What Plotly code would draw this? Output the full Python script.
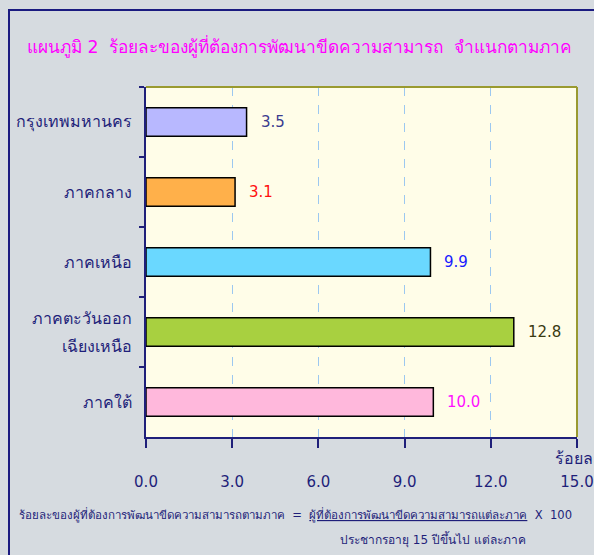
import plotly.graph_objects as go

categories = ["กรุงเทพมหานคร", "ภาคกลาง", "ภาคเหนือ", "ภาคตะวันออก<br>เฉียงเหนือ", "ภาคใต้"]
values = [3.5, 3.1, 9.9, 12.8, 10.0]
value_labels = ["3.5", "3.1", "9.9", "12.8", "10.0"]
bar_colors = ["#b8b8ff", "#ffb04a", "#6ad8ff", "#a8d040", "#ffb8dc"]
label_colors = ["#3b3b8f", "#ff1010", "#1a1aff", "#3a3a10", "#ff10ff"]
x_ticks = [0, 3, 6, 9, 12, 15]
x_ticktext = ["0.0", "3.0", "6.0", "9.0", "12.0", "15.0"]

NAVY = "#1f1f7a"
FONT = "Tahoma, DejaVu Sans, sans-serif"

fig = go.Figure()
fig.add_trace(go.Bar(
    x=values, y=categories, orientation="h",
    marker=dict(color=bar_colors, line=dict(color="#000000", width=1.5)),
    hoverinfo="skip",
))

def px(p):
    return (p - 146) / 431.0

def py(p):
    return (437 - p) / 350.0

annotations = []
for v, lab, c, cat in zip(values, value_labels, label_colors, categories):
    annotations.append(dict(x=v, y=cat, xref="x", yref="y", text=lab, showarrow=False,
                            xanchor="left", yanchor="middle", xshift=12,
                            font=dict(size=15, color=c, family=FONT)))

# category labels (multi-line ones spaced like the original)
for cat in categories:
    lines = cat.split("<br>")
    n = len(lines)
    for i, ln in enumerate(lines):
        annotations.append(dict(x=px(134), y=cat, xref="paper", yref="y", text=ln,
                                showarrow=False, xanchor="right", yanchor="middle",
                                yshift=((n - 1) / 2.0 - i) * 28,
                                font=dict(size=16, color=NAVY, family=FONT)))

annotations += [
    dict(x=px(25), y=py(47), xref="paper", yref="paper", xanchor="left", yanchor="middle",
         text="แผนภูมิ 2  ร้อยละของผู้ที่ต้องการพัฒนาขีดความสามารถ  จำแนกตามภาค",
         showarrow=False, font=dict(size=17.3, color="#ff00ff", family=FONT)),
    dict(x=px(553), y=py(458), xref="paper", yref="paper", xanchor="left", yanchor="middle",
         text="ร้อยละ", showarrow=False, font=dict(size=16, color=NAVY, family=FONT)),
    dict(x=px(17), y=py(515), xref="paper", yref="paper", xanchor="left", yanchor="middle",
         text="ร้อยละของผู้ที่ต้องการพัฒนาขีดความสามารถตามภาค  =  <u>ผู้ที่ต้องการพัฒนาขีดความสามารถแต่ละภาค</u>  X  100",
         showarrow=False, font=dict(size=11.55, color=NAVY, family=FONT)),
    dict(x=px(433), y=py(539), xref="paper", yref="paper", xanchor="center", yanchor="middle",
         text="ประชากรอายุ 15 ปีขึ้นไป แต่ละภาค",
         showarrow=False, font=dict(size=12, color=NAVY, family=FONT)),
]

shapes = [
    dict(type="rect", xref="paper", yref="paper", x0=px(9), x1=px(620), y0=py(580), y1=py(10),
         line=dict(color="#1a1a80", width=2), fillcolor="rgba(0,0,0,0)", layer="below"),
    dict(type="line", xref="paper", yref="paper", x0=0, x1=1, y0=1, y1=1,
         line=dict(color="#9a9a30", width=2)),
    dict(type="line", xref="paper", yref="paper", x0=1, x1=1, y0=0, y1=1,
         line=dict(color="#9a9a30", width=2)),
]

fig.update_layout(
    width=594, height=555,
    margin=dict(l=146, r=17, t=87, b=118, autoexpand=False),
    paper_bgcolor="#d6dbe0",
    plot_bgcolor="#fffde8",
    bargap=0.59,
    showlegend=False,
    annotations=annotations,
    shapes=shapes,
    font=dict(family=FONT, color=NAVY),
)
fig.update_xaxes(
    range=[0, 15], tickvals=x_ticks, ticktext=x_ticktext,
    showgrid=True, gridcolor="#9cc8f0", griddash="dash", gridwidth=1,
    showline=True, linecolor=NAVY, linewidth=1.5,
    ticks="outside", ticklen=9, tickcolor=NAVY, tickwidth=1.5,
    tickfont=dict(size=15, color=NAVY, family=FONT),
    ticklabelstandoff=21, zeroline=False, automargin=False, fixedrange=True,
)
fig.update_yaxes(
    autorange="reversed", showgrid=False, showticklabels=False,
    showline=True, linecolor=NAVY, linewidth=1.5,
    ticks="outside", ticklen=5, tickcolor=NAVY, tickwidth=1.5, tickson="boundaries",
    automargin=False, fixedrange=True,
)

fig.write_html("out.html", config={"displayModeBar": False},
               post_script="document.body.style.margin='0px';")
